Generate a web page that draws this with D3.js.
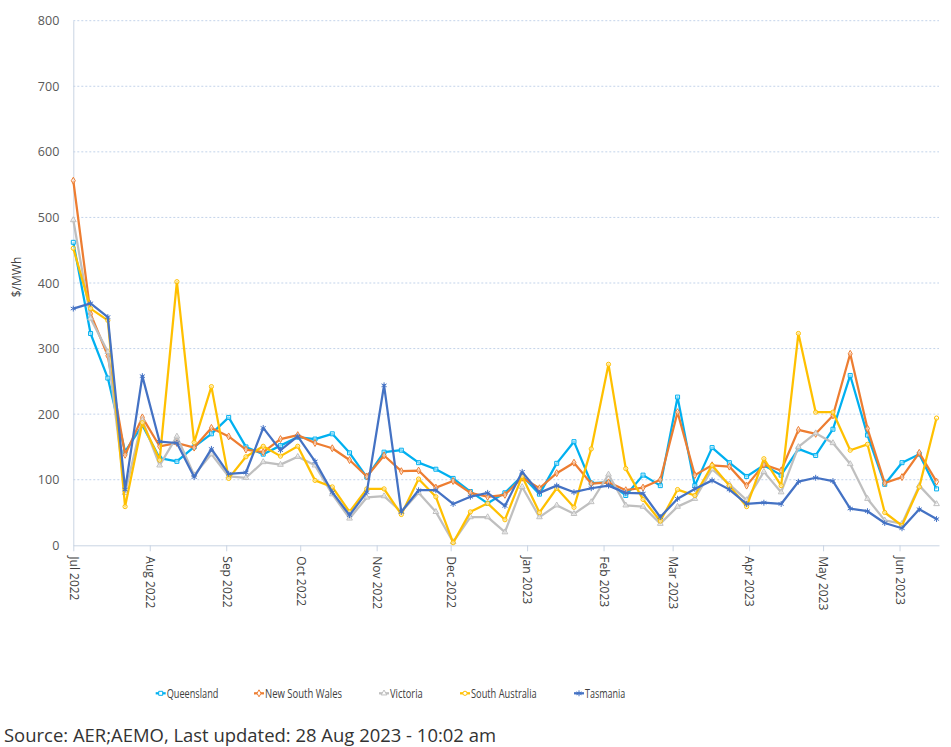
<!DOCTYPE html>
<html>
<head>
<meta charset="utf-8">
<script src="https://cdn.jsdelivr.net/npm/d3@7"></script>
<style>
  html, body { margin: 0; padding: 0; background: #fff; }
  svg { display: block; font-family: "Open Sans", "Noto Sans", sans-serif; }
</style>
</head>
<body>
<svg id="chart" width="951" height="747"></svg>
<script>
// ---------- DATA ----------
const startDate = "2022-07-01";   // first weekly observation
const weekCount = 51;
const seriesNames = ["Queensland", "New South Wales", "Victoria", "South Australia", "Tasmania"];
const queensland = [462,323,255,143,183,133,128,150,170,195,150,139,152,165,162,170,141,104,142,145,126,116,102,82,64,80,106,78,125,158,95,96,76,107,91,226,91,149,126,105,122,107,147,137,177,259,168,93,126,139,86];
const newSouthWales = [556,353,289,138,195,151,156,149,179,166,146,142,162,168,156,148,130,105,137,113,114,88,98,80,74,77,103,87,110,126,94,96,84,88,100,203,107,122,120,91,123,114,176,170,198,292,178,95,104,141,97];
const victoria = [496,346,295,80,191,122,166,107,139,105,103,127,123,135,122,78,41,73,75,51,80,51,5,43,43,20,89,43,61,48,66,108,61,59,33,59,71,116,93,69,112,81,150,171,156,124,71,38,33,91,63];
const southAustralia = [453,361,343,59,187,130,402,157,242,102,135,151,136,151,99,89,51,86,86,47,101,74,4,51,64,39,105,50,87,58,147,276,117,70,37,85,76,122,91,59,132,91,323,203,203,145,154,50,30,89,194];
const tasmania = [361,369,348,85,258,158,156,104,147,109,111,179,145,166,128,81,46,81,244,51,84,84,63,74,80,60,112,80,91,81,87,91,80,79,43,71,86,99,85,63,65,63,97,103,98,56,52,34,26,55,40];
const yTicks = [0,100,200,300,400,500,600,700,800];
const yLabel = "$/MWh";
const sourceText = "Source: AER;AEMO, Last updated: 28 Aug 2023 - 10:02 am";

// ---------- STYLE ----------
const colors = ["#00b0f0", "#ed7d31", "#bfbfbf", "#ffc000", "#4472c4"];
const symbols = [d3.symbolSquare, d3.symbolDiamond, d3.symbolTriangle, d3.symbolCircle, d3.symbolAsterisk || d3.symbolCross];
const symSizes = [16, 14, 14, 14, 24];

const svg = d3.select("#chart");
const plot = { left: 73.3, right: 939, top: 20.7, bottom: 545.3 };

const parse = d3.timeParse("%Y-%m-%d");
const t0 = parse(startDate);
const dates = d3.range(weekCount).map(i => d3.timeDay.offset(t0, 7 * i));
const seriesValues = [queensland, newSouthWales, victoria, southAustralia, tasmania];

const x = d3.scaleTime()
  .domain([t0, d3.timeDay.offset(t0, 351)])
  .range([plot.left, plot.right]);
const y = d3.scaleLinear().domain([0, 800]).range([plot.bottom, plot.top]);

// gridlines
svg.append("g")
  .selectAll("line")
  .data(yTicks.filter(d => d > 0))
  .join("line")
  .attr("x1", plot.left).attr("x2", plot.right)
  .attr("y1", d => y(d)).attr("y2", d => y(d))
  .attr("stroke", "#c3d3ea").attr("stroke-width", 1)
  .attr("stroke-dasharray", "2,2");

// y axis
const yAxis = svg.append("g")
  .attr("transform", `translate(${plot.left},0)`)
  .call(d3.axisLeft(y).tickValues(yTicks).tickSize(0).tickPadding(14));
yAxis.select(".domain").attr("stroke", "#c9d4e3");
yAxis.selectAll("text").attr("font-size", 12.5).attr("fill", "#595959")
  .attr("font-family", "'Open Sans', sans-serif");

// x axis
const xAxis = svg.append("g")
  .attr("transform", `translate(0,${plot.bottom})`)
  .call(d3.axisBottom(x).ticks(d3.timeMonth.every(1)).tickFormat(d3.timeFormat("%b %Y")).tickSize(6).tickSizeOuter(0));
xAxis.select(".domain").attr("stroke", "#c9d4e3");
xAxis.selectAll(".tick line").attr("stroke", "#c9d4e3");
xAxis.selectAll("text")
  .attr("font-size", 12).attr("fill", "#404040")
  .attr("font-family", "'Open Sans', sans-serif")
  .attr("text-anchor", "start")
  .attr("transform", "rotate(90)")
  .attr("x", 11).attr("y", 0).attr("dy", "0.35em");

// y label
svg.append("text")
  .attr("transform", `translate(21,277) rotate(-90)`)
  .attr("text-anchor", "middle")
  .attr("font-size", 12).attr("fill", "#404040")
  .text(yLabel);

// lines + markers
const line = d3.line().x((d, i) => x(dates[i])).y(d => y(d));
seriesValues.forEach((vals, s) => {
  const g = svg.append("g");
  g.append("path")
    .datum(vals)
    .attr("d", line)
    .attr("fill", "none")
    .attr("stroke", colors[s])
    .attr("stroke-width", 2.25)
    .attr("stroke-linejoin", "round");
  g.selectAll("path.m")
    .data(vals)
    .join("path")
    .attr("class", "m")
    .attr("transform", (d, i) => `translate(${x(dates[i])},${y(d)})`)
    .attr("d", d3.symbol().type(symbols[s]).size(symSizes[s]))
    .attr("fill", s === 4 ? "none" : "#fff")
    .attr("fill-opacity", 0.5)
    .attr("stroke", colors[s])
    .attr("stroke-width", 1);
});

// legend
const legendX = [155.7, 254, 379, 460, 574];
const legendW = [51.7, 77, 32.7, 65.7, 40.3];
const legendY = 693.3;
seriesNames.forEach((name, s) => {
  const g = svg.append("g");
  g.append("line")
    .attr("x1", legendX[s]).attr("x2", legendX[s] + 10)
    .attr("y1", legendY).attr("y2", legendY)
    .attr("stroke", colors[s]).attr("stroke-width", 2.25);
  g.append("path")
    .attr("transform", `translate(${legendX[s] + 5},${legendY})`)
    .attr("d", d3.symbol().type(symbols[s]).size(symSizes[s]))
    .attr("fill", s === 4 ? "none" : "#fff")
    .attr("stroke", colors[s]).attr("stroke-width", 1);
  g.append("text")
    .attr("x", legendX[s] + 11).attr("y", legendY).attr("dy", "0.35em")
    .attr("font-size", 13).attr("fill", "#404040")
    .attr("textLength", legendW[s]).attr("lengthAdjust", "spacingAndGlyphs")
    .text(name);
});

// source
svg.append("text")
  .attr("x", 4).attr("y", 742)
  .attr("font-size", 18).attr("fill", "#333")
  .attr("textLength", 492).attr("lengthAdjust", "spacingAndGlyphs")
  .text(sourceText);
</script>
</body>
</html>
